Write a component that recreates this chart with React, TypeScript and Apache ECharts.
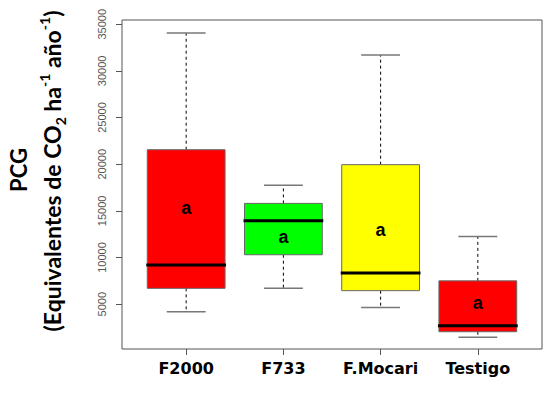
import React, { useEffect, useRef } from "react";
import * as echarts from "echarts";

const categories = ["F2000", "F733", "F.Mocari", "Testigo"];
const lowWhisker = [4200, 6700, 4650, 1450];
const q1 = [6700, 10300, 6450, 2050];
const median = [9200, 13950, 8350, 2700];
const q3 = [21550, 15800, 19950, 7500];
const highWhisker = [34050, 17750, 31700, 12250];
const letterPos = [15300, 12250, 12950, 5100];
const letters = ["a", "a", "a", "a"];
const boxColors = ["#FF0000", "#00FF00", "#FFFF00", "#FF0000"];
const yTicks = [5000, 10000, 15000, 20000, 25000, 30000, 35000];

export default function App() {
  const ref = useRef<HTMLDivElement>(null);
  useEffect(() => {
    if (!ref.current) return;
    const chart = echarts.init(ref.current, null, { renderer: "svg" });
    const data = categories.map((c, i) => [
      i + 1,
      lowWhisker[i],
      q1[i],
      median[i],
      q3[i],
      highWhisker[i],
      letterPos[i],
    ]);
    const option: any = {
      animation: false,
      backgroundColor: "#fff",
      grid: {
        left: 122,
        right: 6,
        top: 20,
        bottom: 46,
        show: true,
        borderColor: "#555",
        borderWidth: 1,
        backgroundColor: "transparent",
      },
      xAxis: {
        type: "value",
        min: 0.34,
        max: 4.66,
        axisLine: { show: false },
        splitLine: { show: false },
        axisTick: {
          show: true,
          length: 6,
          customValues: [1, 2, 3, 4],
          lineStyle: { color: "#555", width: 1 },
        },
        axisLabel: {
          customValues: [1, 2, 3, 4],
          formatter: (v: number) => categories[Math.round(v) - 1] || "",
          color: "#000",
          fontSize: 16,
          fontWeight: "bold",
          fontFamily: "DejaVu Sans",
          margin: 11,
        },
      },
      yAxis: {
        type: "value",
        min: 200,
        max: 35450,
        axisLine: { show: false },
        splitLine: { show: false },
        axisTick: {
          show: true,
          length: 6,
          customValues: yTicks,
          lineStyle: { color: "#555", width: 1 },
        },
        axisLabel: {
          customValues: yTicks,
          formatter: (v: number) => String(Math.round(v)),
          rotate: 90,
          color: "#555",
          fontSize: 11,
          fontFamily: "Liberation Sans",
          margin: 15,
        },
      },
      graphic: [
        {
          type: "text",
          x: 18,
          y: 170,
          rotation: Math.PI / 2,
          style: {
            text: "PCG",
            font: "bold 22px Lato",
            fill: "#000",
            align: "center",
            verticalAlign: "middle",
          },
        },
        {
          type: "text",
          x: 52,
          y: 171,
          rotation: Math.PI / 2,
          style: {
            text: "(Equivalentes de CO{sub|2} ha{sup|-1} año{sup|-1})",
            fontFamily: "Lato",
            fontWeight: "bold",
            fontSize: 23,
            lineHeight: 30,
            fill: "#000",
            align: "center",
            verticalAlign: "middle",
            rich: {
              sub: {
                fontFamily: "Lato",
                fontWeight: "bold",
                fontSize: 14,
                lineHeight: 14,
                verticalAlign: "bottom",
                fill: "#000",
              },
              sup: {
                fontFamily: "Lato",
                fontWeight: "bold",
                fontSize: 14,
                lineHeight: 14,
                verticalAlign: "top",
                fill: "#000",
              },
            },
          },
        },
      ],
      series: [
        {
          type: "custom",
          data,
          encode: { x: 0, y: [1, 2, 3, 4, 5, 6] },
          clip: false,
          renderItem: (params: any, api: any) => {
            const x = api.value(0);
            const i = params.dataIndex;
            const unit = api.size([1, 0])[0];
            const boxW = unit * 0.8;
            const capW = unit * 0.4;
            const pLow = api.coord([x, api.value(1)]);
            const pQ1 = api.coord([x, api.value(2)]);
            const pMed = api.coord([x, api.value(3)]);
            const pQ3 = api.coord([x, api.value(4)]);
            const pHigh = api.coord([x, api.value(5)]);
            const pLet = api.coord([x, api.value(6)]);
            const cx = pMed[0];
            return {
              type: "group",
              children: [
                {
                  type: "line",
                  shape: { x1: cx, y1: pQ3[1], x2: cx, y2: pHigh[1] },
                  style: { stroke: "#000", lineWidth: 1, lineDash: [3, 3] },
                },
                {
                  type: "line",
                  shape: { x1: cx, y1: pQ1[1], x2: cx, y2: pLow[1] },
                  style: { stroke: "#000", lineWidth: 1, lineDash: [3, 3] },
                },
                {
                  type: "line",
                  shape: { x1: cx - capW / 2, y1: pHigh[1], x2: cx + capW / 2, y2: pHigh[1] },
                  style: { stroke: "#777", lineWidth: 1.5 },
                },
                {
                  type: "line",
                  shape: { x1: cx - capW / 2, y1: pLow[1], x2: cx + capW / 2, y2: pLow[1] },
                  style: { stroke: "#777", lineWidth: 1.5 },
                },
                {
                  type: "rect",
                  shape: {
                    x: cx - boxW / 2,
                    y: pQ3[1],
                    width: boxW,
                    height: pQ1[1] - pQ3[1],
                  },
                  style: { fill: boxColors[i], stroke: "#666", lineWidth: 1 },
                },
                {
                  type: "line",
                  shape: { x1: cx - boxW / 2 - 1, y1: pMed[1], x2: cx + boxW / 2 + 1, y2: pMed[1] },
                  style: { stroke: "#000", lineWidth: 3 },
                },
                {
                  type: "text",
                  x: cx,
                  y: pLet[1],
                  style: {
                    text: letters[i],
                    font: "bold 18px Liberation Sans",
                    fill: "#000",
                    align: "center",
                    verticalAlign: "middle",
                  },
                },
              ],
            };
          },
        },
      ],
    };
    chart.setOption(option);
    return () => chart.dispose();
  }, []);
  return (
    <div
      ref={ref}
      style={{ position: "fixed", left: 0, top: 0, width: 548, height: 395 }}
    />
  );
}
